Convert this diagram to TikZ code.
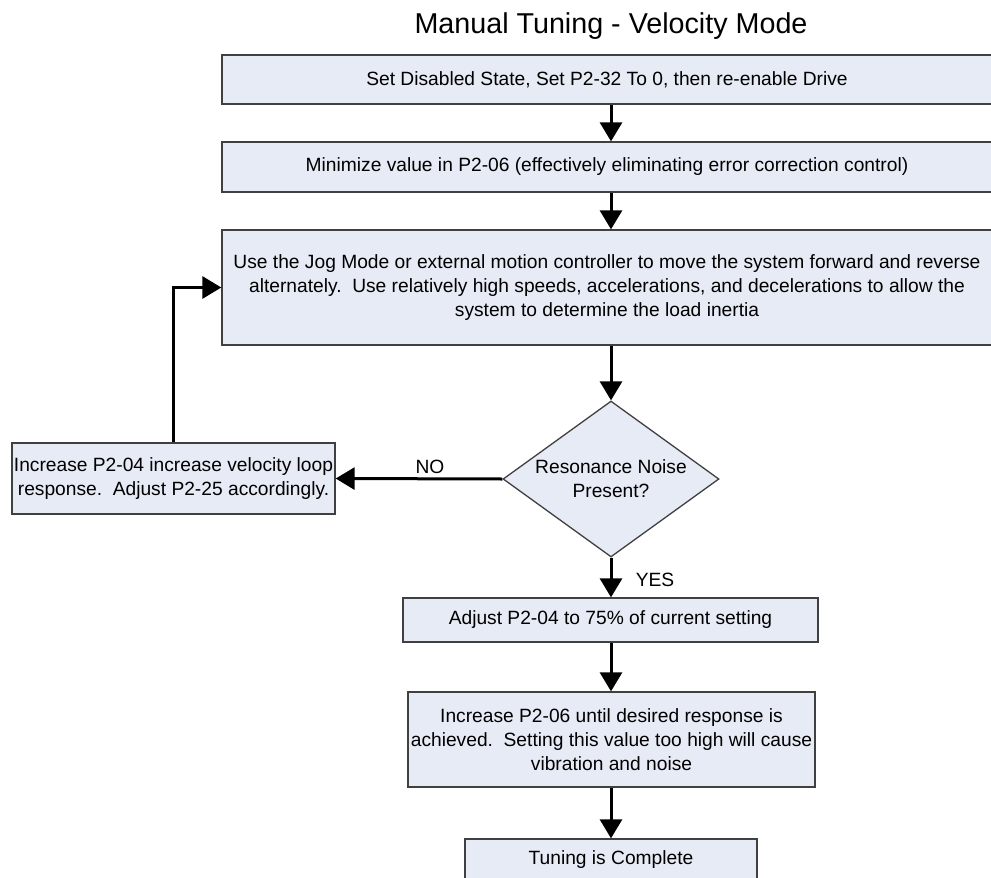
\documentclass[tikz,border=0pt]{standalone}
\usepackage{fontspec}
\setmainfont{Liberation Sans}
\usetikzlibrary{shapes.geometric,arrows.meta}
\definecolor{boxfill}{HTML}{E7EBF6}
\definecolor{boxline}{HTML}{404040}
\tikzset{
  stepbox/.style={draw=boxline, line width=1.3pt, fill=boxfill, rectangle, inner sep=0pt,
    align=center, font=\fontsize{19.2}{24}\selectfont},
  decide/.style={draw=boxline, line width=1.3pt, fill=boxfill, diamond, inner sep=0pt, aspect=1.4,
    minimum width=216pt, minimum height=156pt, align=center, font=\fontsize{19.2}{24}\selectfont},
  arr/.style={line width=3pt, -{Triangle[length=19pt,width=22pt]}},
  lbl/.style={font=\fontsize{19.2}{24}\selectfont, inner sep=0pt}
}
\begin{document}
\begin{tikzpicture}[x=1pt,y=-1pt]
\useasboundingbox (0,0) rectangle (991,878);
\node[anchor=base, inner sep=0pt, font=\fontsize{28.7}{33}\selectfont] (title) at (611,34) {Manual Tuning - Velocity Mode};
\node[stepbox, minimum width=770pt, minimum height=49pt] (b1) at (607,79.5)
  {Set Disabled State, Set P2-32 To 0, then re-enable Drive};
\node[stepbox, minimum width=770pt, minimum height=50pt] (b2) at (607,167)
  {Minimize value in P2-06 (effectively eliminating error correction control)};
\node[stepbox, minimum width=770pt, minimum height=115pt] (b3) at (607,287.5)
  {Use the Jog Mode or external motion controller to move the system forward and reverse\\
   alternately.\ \ Use relatively high speeds, accelerations, and decelerations to allow the\\
   system to determine the load inertia};
\node[decide] (d) at (611,479) {Resonance Noise\\Present?};
\node[stepbox, minimum width=323pt, minimum height=71pt] (b4) at (173.5,478.5)
  {Increase P2-04 increase velocity loop\\response.\ \ Adjust P2-25 accordingly.};
\node[stepbox, minimum width=415pt, minimum height=44pt] (b5) at (610.5,620)
  {Adjust P2-04 to 75\% of current setting};
\node[stepbox, minimum width=407pt, minimum height=95pt] (b6) at (611.5,739.5)
  {Increase P2-06 until desired response is\\achieved.\ \ Setting this value too high will cause\\vibration and noise};
\node[stepbox, minimum width=292pt, minimum height=41pt] (b7) at (611,859.5)
  {Tuning is Complete};
\coordinate (ax) at (611,0);
\draw[arr] (b1.south -| ax) -- (b2.north -| ax);
\draw[arr] (b2.south -| ax) -- (b3.north -| ax);
\draw[arr] (b3.south -| ax) -- (d.north);
\draw[arr] (d.west) -- (b4.east);
\draw[arr] (b4.north) |- (b3.west);
\draw[arr] (d.south) -- (b5.north -| ax);
\draw[arr] (b5.south -| ax) -- (b6.north -| ax);
\draw[arr] (b6.south -| ax) -- (b7.north -| ax);
\node[lbl] (no) at (430,467) {NO};
\node[lbl] (yes) at (655,580) {YES};
\end{tikzpicture}
\end{document}
